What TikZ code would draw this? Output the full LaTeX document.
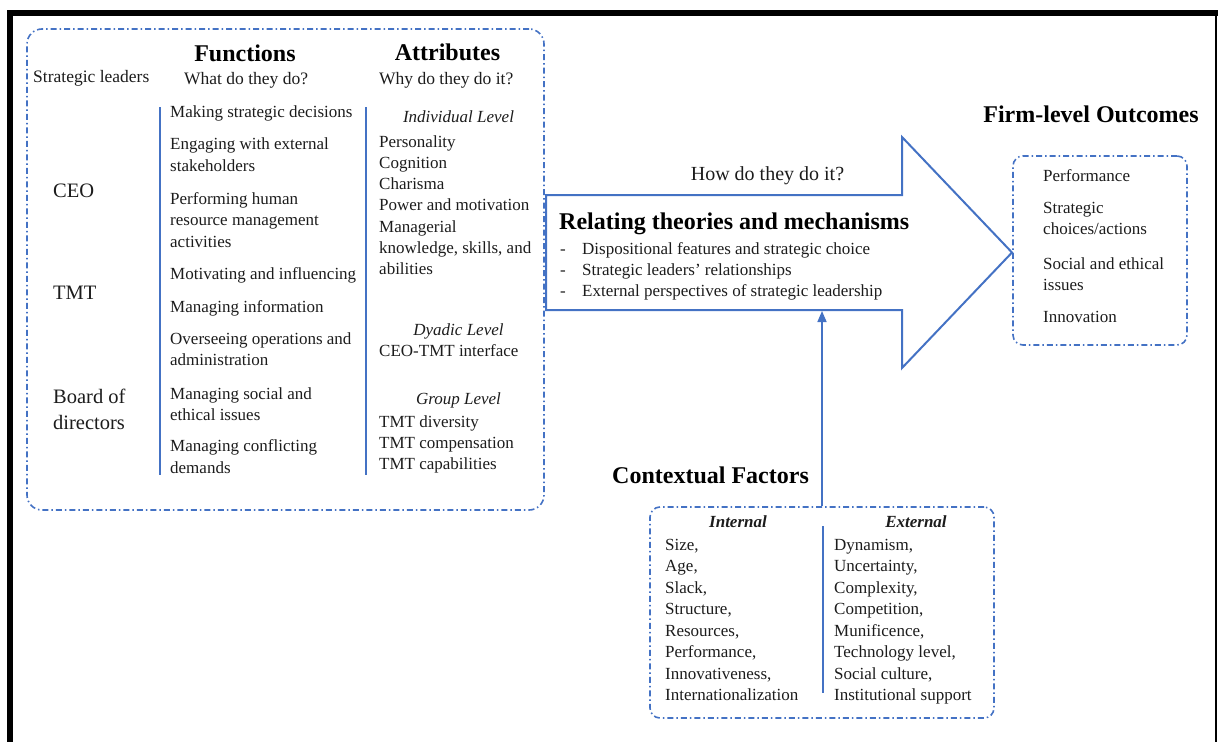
\documentclass[tikz,border=0pt]{standalone}
\usepackage{fontspec}
\setmainfont{Liberation Serif}
\usetikzlibrary{arrows.meta}
\definecolor{lineblue}{HTML}{4472C4}
\definecolor{ink}{HTML}{1C1C1C}
% invisible rule fixing the height of a block's first line
\newcommand{\firstlinerule}{\vrule height 16pt depth 0pt width 0pt}

\begin{document}
\begin{tikzpicture}[x=1pt,y=-1pt,
  dashbox/.style={draw=lineblue, line width=1.6pt,
    dash pattern=on 6pt off 3pt on 1.5pt off 3pt,
    rounded corners=#1, inner sep=0pt},
  % one-line text, placed by its baseline
  item/.style={inner sep=0pt, anchor=base west, text=ink,
    font=\fontsize{17}{21}\selectfont},
  % multi-line text, placed near the baseline of its first line
  block/.style={inner sep=0pt, anchor=north west, align=left, text=ink,
    yshift=11pt, font=\fontsize{17}{#1}\selectfont,
    execute at begin node=\firstlinerule},
  block/.default=21.3,
  subhead/.style={inner sep=0pt, anchor=base west, text=ink,
    font=\fontsize{17.5}{21}\selectfont},
  head/.style={inner sep=0pt, anchor=base, text=black,
    font=\fontsize{24}{28}\selectfont\bfseries},
  role/.style={inner sep=0pt, anchor=base west, text=ink,
    font=\fontsize{20.5}{26}\selectfont},
  rolebox/.style={inner sep=0pt, anchor=north west, align=left, text=ink,
    yshift=13pt, font=\fontsize{20.5}{26}\selectfont,
    execute at begin node=\firstlinerule},
  level/.style={inner sep=0pt, anchor=base, text=ink,
    font=\fontsize{17}{21}\selectfont\itshape},
  sidehead/.style={inner sep=0pt, anchor=base, text=ink,
    font=\fontsize{17}{21}\selectfont\bfseries\itshape},
  divider/.style={draw=lineblue, line width=1.5pt},
  bigarrow/.style={draw=lineblue, line width=2pt, line join=miter},
  connector/.style={draw=lineblue, line width=1.6pt,
    -{Triangle[length=11pt,width=9pt]}}
]
\useasboundingbox (0,0) rectangle (1218,742);

% page frame
\fill[black] (7,10) rectangle (1218,16);
\fill[black] (7,10) rectangle (13,742);
\draw[black, line width=1.2pt] (1216,16) -- (1216,742);

% ---------- strategic leaders panel ----------
\node[dashbox=15pt, minimum width=517pt, minimum height=481pt] (leaders) at (285.5,269.5) {};

\node[subhead] (sl)   at (33,82)  {Strategic leaders};
\node[head]    (fn)   at (245,61) {Functions};
\node[head]    (attr) at (447.5,60) {Attributes};
\node[subhead] (what) at (184,84) {What do they do?};
\node[subhead] (why)  at (379,84) {Why do they do it?};

\node[role]    (ceo)   at (53,197) {CEO};
\node[role]    (tmt)   at (53,299) {TMT};
\node[rolebox] (board) at (53,402) {Board of\\directors};

\draw[divider] (160,107) -- (160,475);
\draw[divider] (366,107) -- (366,475);

\node[item]  (f1) at (170,117) {Making strategic decisions};
\node[block=21.5] (f2) at (170,149) {Engaging with external\\stakeholders};
\node[block=21.5] (f3) at (170,203) {Performing human\\resource management\\activities};
\node[item]  (f4) at (170,279) {Motivating and influencing};
\node[item]  (f5) at (170,312) {Managing information};
\node[block=21.5] (f6) at (170,343) {Overseeing operations and\\administration};
\node[block=21.5] (f7) at (170,398) {Managing social and\\ethical issues};
\node[block=22]   (f8) at (170,450) {Managing conflicting\\demands};

\node[level] (lvind) at (458.5,122) {Individual Level};
\node[block] (a1) at (379,146) {Personality\\Cognition\\Charisma\\Power and motivation\\Managerial\\knowledge, skills, and\\abilities};
\node[level] (lvdya) at (458.5,335) {Dyadic Level};
\node[item]  (a2) at (379,356) {CEO-TMT interface};
\node[level] (lvgrp) at (458.5,404) {Group Level};
\node[block] (a3) at (379,426) {TMT diversity\\TMT compensation\\TMT capabilities};

% ---------- mechanisms arrow ----------
\draw[bigarrow] (546,195) -- (902,195) -- (902,137) -- (1012,252.5)
  -- (902,368) -- (902,310) -- (546,310) -- cycle;
\coordinate (shaftbase) at (822,311);

\node[inner sep=0pt, anchor=base, text=ink, font=\fontsize{20}{24}\selectfont]
  (how) at (767.5,180) {How do they do it?};
\node[head, anchor=base west] (rel) at (559,229) {Relating theories and mechanisms};
\node[block=21] (mech) at (560,253)
  {\makebox[22pt][l]{-}Dispositional features and strategic choice\\
   \makebox[22pt][l]{-}Strategic leaders' relationships\\
   \makebox[22pt][l]{-}External perspectives of strategic leadership};

% ---------- outcomes ----------
\node[head] (outt) at (1091,122) {Firm-level Outcomes};
\node[dashbox=10pt, minimum width=174pt, minimum height=189pt] (outbox) at (1100,250.5) {};
\node[item]     (o1) at (1043,181) {Performance};
\node[block=21] (o2) at (1043,213) {Strategic\\choices/actions};
\node[block=21] (o3) at (1043,268) {Social and ethical\\issues};
\node[item]     (o4) at (1043,322) {Innovation};

% ---------- contextual factors ----------
\node[head, anchor=base west] (ctxt) at (612,483) {Contextual Factors};
\node[dashbox=10pt, minimum width=344pt, minimum height=211pt] (ctx) at (822,612.5) {};
\draw[divider] (823,526) -- (823,693);
\node[sidehead] (intl) at (738,527) {Internal};
\node[sidehead] (extl) at (916,527) {External};
\node[block=21.43] (ilist) at (665,550)
  {Size,\\Age,\\Slack,\\Structure,\\Resources,\\Performance,\\Innovativeness,\\Internationalization};
\node[block=21.43] (elist) at (834,550)
  {Dynamism,\\Uncertainty,\\Complexity,\\Competition,\\Munificence,\\Technology level,\\Social culture,\\Institutional support};

\draw[connector] (ctx.north) -- (ctx.north |- shaftbase);
\end{tikzpicture}
\end{document}
